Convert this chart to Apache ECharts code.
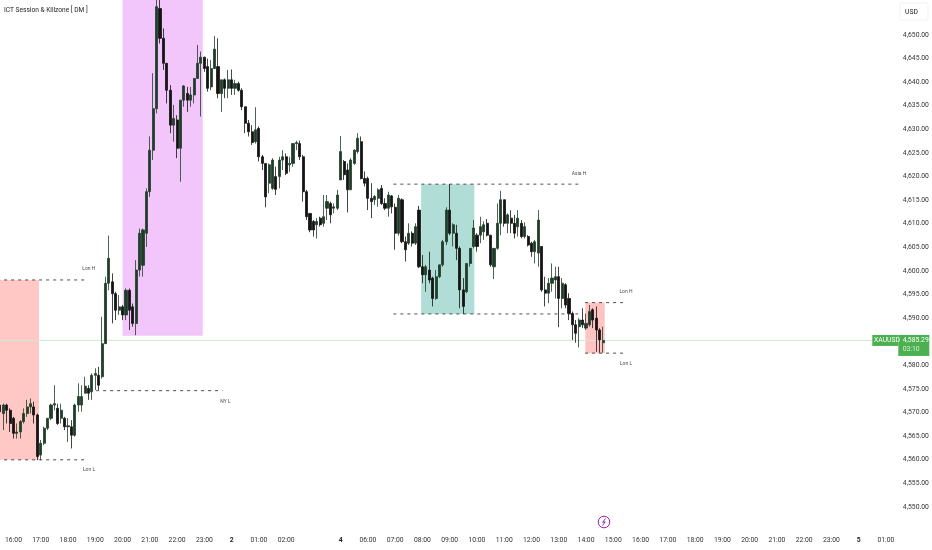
<!DOCTYPE html>
<html><head><meta charset="utf-8">
<style>html,body{margin:0;padding:0;background:#fff}#c{width:932px;height:550px}</style>
<script src="https://cdn.jsdelivr.net/npm/echarts@6/dist/echarts.min.js"></script>
</head><body><div id="c"></div>
<script>
var FONT = 'Roboto,"Noto Sans",sans-serif';
var hourLabels = ['16:00','17:00','18:00','19:00','20:00','21:00','22:00','23:00','2','01:00','02:00','','4','06:00','07:00','08:00','09:00','10:00','11:00','12:00','13:00','14:00','15:00','16:00','17:00','18:00','19:00','20:00','21:00','22:00','23:00','5','01:00'];
var dayLabels = ['2','4','5'];
var lastPrice = 4585.29;
var open = [4571.6,4569.8,4571.6,4570.5,4568.8,4565.6,4565.9,4568.1,4569.8,4571.2,4571.2,4569.5,4561,4563.5,4566.7,4568.8,4571.6,4570.9,4568.8,4568.8,4567,4567,4565.2,4571.6,4571.6,4574.1,4575.1,4574.4,4577.9,4577.9,4577.6,4584.6,4597.4,4597.7,4595.2,4591.7,4592.4,4590.7,4595.9,4592.4,4588.9,4600.2,4601.2,4608,4616.8,4625.6,4634.4,4655.6,4649.3,4644,4638.3,4630.9,4632,4626,4636.2,4637.6,4636.2,4637.3,4640.8,4644,4645.3,4643.3,4639,4642.9,4643.3,4637.6,4640.5,4638.7,4640.5,4638.7,4639.7,4638.3,4634.8,4631.3,4629.5,4627.4,4630.2,4624.2,4622.8,4618.6,4617.5,4620,4620,4623.5,4624.2,4622.5,4622.8,4627,4627,4624.2,4616.8,4612.2,4610.5,4609.8,4611.2,4610.1,4613.3,4614.3,4613.3,4613.3,4619.3,4623.2,4621.4,4617.2,4622.8,4625.3,4627.4,4619.6,4619.6,4615.4,4615.1,4615.4,4617.5,4614.3,4613.3,4615.9,4613.5,4608,4615.1,4606.2,4605.9,4608,4605.9,4612.9,4600.9,4599.2,4600.2,4598.5,4594.2,4598.8,4601.3,4606.2,4612.9,4608,4608,4604.8,4596,4595.6,4601.6,4605.2,4607.6,4607.6,4608.3,4610.1,4607.6,4600.9,4604.8,4610.1,4615.1,4610.1,4611.2,4610.1,4609.4,4610.1,4607.3,4607.3,4605.9,4604.1,4603.8,4605.2,4596,4595.3,4597.4,4598.1,4598.8,4594.2,4597.1,4594.2,4591,4588.6,4588.2,4589.6,4587.9,4588.6,4591.8,4590,4587.5,4584.8];
var close = [4570.2,4571.6,4570.5,4567.7,4565.6,4565.9,4568.1,4569.8,4571.2,4571.9,4569.5,4560.7,4563.5,4566.7,4568.8,4571.6,4571.9,4567.7,4570.5,4567,4567.2,4565.2,4571.6,4573.4,4573.4,4575.6,4574.1,4577.9,4578.3,4575.8,4584.6,4597.4,4602.7,4595.2,4591.7,4592.4,4590.7,4595.9,4591.7,4588.9,4600.2,4608,4608.7,4616.8,4625.6,4634.4,4656,4649.3,4644,4638.3,4630.9,4632.3,4626,4636.2,4639.2,4636.2,4637.3,4640.8,4644,4645.3,4642.9,4638.7,4642.9,4647,4637.6,4640.5,4638.7,4640.5,4638.7,4639.7,4638.3,4634.8,4631.3,4629.5,4627.2,4629.9,4624.2,4622.8,4615.7,4622.5,4623.5,4617.3,4623.5,4624.2,4620.7,4622.8,4627,4627.2,4624.2,4616.8,4611.5,4608.7,4608.7,4610.5,4609.8,4611.5,4614.7,4611.9,4613.6,4616.1,4625.3,4620.4,4617.2,4623.5,4625.6,4628.1,4619.6,4618.6,4615.4,4614.7,4615.8,4617.2,4614.3,4613.3,4616.1,4613.6,4608,4615.4,4606.2,4604.5,4608,4605.9,4609.4,4600.9,4599.2,4600.9,4598.1,4594.2,4598.8,4601.3,4606.2,4612.9,4608,4609.8,4604.8,4596,4592.5,4601.6,4604.8,4609.1,4605.2,4609.4,4609.8,4607.6,4601.3,4604.8,4610.1,4615.1,4610.1,4611.9,4610.1,4608,4611.2,4607.3,4609.4,4605.5,4604.1,4606.2,4610.8,4596,4595.3,4597.4,4598.5,4598.8,4594.2,4597.4,4592.8,4591,4588.6,4586.8,4589.6,4588.6,4588.9,4591.4,4589.6,4587.5,4585.4,4585.29];
var high = [4571.9,4571.9,4571.9,4570.9,4569.1,4567.7,4568.4,4570.9,4572.7,4573,4572.3,4569.8,4564.2,4567,4568.8,4571.9,4575.8,4571.9,4571.9,4569.1,4568.8,4568.4,4571.9,4576.2,4575.8,4577.6,4575.8,4578.3,4579.4,4579.7,4590.3,4598.8,4607.5,4599.5,4595.6,4594.9,4592.8,4596.3,4596.3,4593.1,4602.3,4609,4609,4617.5,4628.5,4641.9,4658,4657.4,4651.4,4644,4639.4,4635.2,4633,4636.2,4639.4,4639,4639,4640.8,4647.9,4646.5,4645.4,4645,4644.7,4649.8,4649.3,4640.5,4640.8,4642.6,4642.7,4640.5,4640.1,4638.7,4634.8,4632,4630.9,4634.7,4630.6,4624.6,4622.8,4622.8,4623.9,4622.1,4624.2,4625.6,4624.9,4624.2,4627,4627.6,4627.6,4624.6,4617.2,4612.2,4610.8,4611.2,4611.5,4616.1,4616.1,4614.7,4614.3,4617.2,4628.6,4623.5,4622.8,4623.9,4625.8,4629.2,4628.5,4621.1,4620,4618.6,4616.1,4617.5,4618.2,4615.4,4616.8,4616.1,4614.3,4616.1,4615.4,4607.3,4610.1,4608.4,4610.1,4613.8,4603.4,4601.3,4604.1,4598.8,4600.2,4601.3,4606.6,4613.5,4618.4,4610.1,4609.8,4605.2,4598.5,4601.6,4604.8,4610.8,4608,4611.5,4610.5,4611,4607.6,4604.8,4614.3,4617,4615.1,4612.2,4612.9,4611.9,4612.9,4610.8,4610.3,4607.6,4606.2,4606.6,4612.9,4605.2,4598.8,4598.5,4601.6,4600.9,4600.9,4598.5,4597.4,4595.3,4591.4,4589.6,4590,4592.1,4591,4592.8,4592.1,4592.5,4587.9,4588.2];
var low = [4568.4,4566.3,4567.7,4565.9,4564.5,4564.5,4564.5,4567.7,4569.1,4569.8,4567.7,4559.9,4559.9,4563.1,4566.3,4568.4,4570.5,4567.4,4567.7,4566.3,4563.8,4562.4,4564.9,4570.2,4570.2,4574.1,4572.7,4572.7,4574.8,4574.8,4577.2,4587.8,4595.9,4588.9,4589.6,4590.7,4589.6,4589.6,4587.5,4588.2,4586.4,4598.8,4598.8,4605.1,4615.7,4623.5,4633.4,4648.2,4642.6,4635.5,4629.2,4627.4,4623.9,4618.9,4634.8,4633.7,4634.8,4635.5,4640.8,4632.7,4642.2,4638,4638.3,4642.9,4636.6,4633.7,4636.6,4636.6,4637.3,4637.3,4638,4634.1,4629.2,4628.5,4626.7,4627,4623.2,4621.4,4613.5,4616.5,4617.2,4616.1,4617.5,4621.4,4620.3,4621,4622.1,4625.6,4623.5,4614.7,4610.8,4608.2,4607.3,4606.9,4609.4,4609.4,4610.8,4610.1,4612.2,4612.9,4619.3,4619.3,4612.4,4617.2,4622.5,4624.9,4619.4,4617.9,4612.9,4611.2,4614,4613.6,4614,4612.9,4611.5,4612.2,4604.5,4607.5,4605.9,4602,4605.5,4605.2,4605.5,4600.6,4597.4,4595.6,4597.4,4592.5,4593.9,4598.5,4600.9,4605.5,4607.6,4605.2,4602.3,4592.1,4590.9,4595.3,4600.9,4604.8,4604.1,4605.9,4606.6,4607.3,4600.9,4598.3,4604.5,4607.6,4609.4,4608,4608,4606.9,4607.3,4606.9,4606.9,4605.2,4603,4601.6,4600.9,4595.6,4592.5,4593.2,4595.6,4594.2,4588.1,4592.1,4592.1,4589.6,4585.4,4584.8,4583.8,4587.9,4587.5,4588.2,4587.9,4582.9,4582.7,4582.7];

// Session overlays, x in hours after the first 16:00 label
var sessionStart = [-0.6, 4.0, 14.95, 20.97];
var sessionEnd   = [0.935, 6.94, 16.9, 21.68];
var sessionLow   = [4560, 4586.3, 4590.9, 4582.6];
var sessionHigh  = [4598.1, 4657.4, 4618.4, 4593.3];
var sessionColor = ['#ffc8c4', '#f2c6fa', '#b0ddd6', '#ffc4c2'];

var levelPrice = [4598.1, 4560, 4574.65, 4618.4, 4590.9, 4593.3, 4582.6];
var levelFrom  = [-0.6, -0.6, 3.03, 13.93, 13.93, 20.96, 20.96];
var levelTo    = [2.66, 2.66, 7.67, 20.71, 20.71, 22.49, 22.49];

var tagText  = ['Lon H', 'Lon L', 'NY L', 'Asia H', 'Lon H', 'Lon L'];
var tagHour  = [2.76, 2.77, 7.77, 20.74, 22.46, 22.46];
var tagPrice = [4600.4, 4557.8, 4572.4, 4620.6, 4595.5, 4580.4];

var SLOTS = 264, PER_HOUR = 8, FIRST = 4;
var categories = [];
for (var i = 0; i < SLOTS; i++) categories.push('s' + i);
var ohlc = open.map(function (o, i) { return [o, close[i], low[i], high[i]]; });

function labelOf(i) {
  var k = (i - FIRST) / PER_HOUR;
  return (k >= 0 && k === Math.floor(k) && hourLabels[k]) ? hourLabels[k] : null;
}
var series = [];
series.push({
  type: 'line', name: 'sessions', xAxisIndex: 1, data: [], silent: true, z: 1,
  markArea: {
    silent: true, z: 1,
    data: sessionStart.map(function (s, i) {
      return [{ coord: [s, sessionLow[i]], itemStyle: { color: sessionColor[i], opacity: 1 } },
              { coord: [sessionEnd[i], sessionHigh[i]] }];
    })
  }
});
series.push({
  type: 'line', name: 'last', xAxisIndex: 1, symbol: 'none', silent: true, z: 2,
  data: [[-0.6, lastPrice], [31.5, lastPrice]],
  lineStyle: { color: '#d3e8d4', width: 1 }
});
levelPrice.forEach(function (p, i) {
  series.push({
    type: 'line', xAxisIndex: 1, symbol: 'none', silent: true, z: 2,
    data: [[levelFrom[i], p], [levelTo[i], p]],
    lineStyle: { color: '#222', width: 0.8, type: [3, 4] }
  });
});
series.push({
  type: 'candlestick', name: 'XAUUSD', data: ohlc, barWidth: 2.6, z: 3,
  itemStyle: { color: '#1f3d28', color0: '#141414', borderColor: '#1f3d28', borderColor0: '#141414', borderWidth: 0.8 }
});
series.push({
  type: 'scatter', xAxisIndex: 1, symbolSize: 0, silent: true, z: 4,
  data: tagHour.map(function (h, i) { return { value: [h, tagPrice[i]], name: tagText[i] }; }),
  label: { show: true, position: 'inside', formatter: '{b}', fontSize: 5, color: '#222', fontFamily: FONT }
});

var chart = echarts.init(document.getElementById('c'), null, { renderer: 'canvas' });
chart.setOption({
  animation: false, backgroundColor: '#fff',
  title: { text: 'ICT Session & Killzone [ DM ]', left: 4, top: 7, padding: 0, textStyle: { fontSize: 6.6, fontWeight: 'normal', color: '#222', fontFamily: FONT } },
  grid: { left: -1.836, top: 0, width: 899.7, height: 530.6, containLabel: false, outerBoundsMode: 'none' },
  xAxis: [{
    type: 'category', data: categories, boundaryGap: true,
    axisLine: { show: false }, axisTick: { show: false }, splitLine: { show: false },
    axisLabel: {
      interval: function (i) { return !!labelOf(i); },
      margin: 6, fontSize: 6.8, color: '#333', fontFamily: FONT,
      formatter: function (v, i) {
        var t = labelOf(i);
        return !t ? '' : dayLabels.indexOf(t) >= 0 ? '{d|' + t + '}' : t;
      },
      rich: { d: { fontSize: 6.8, fontWeight: 'bold', color: '#222', fontFamily: FONT } }
    }
  }, {
    type: 'value', show: false, min: -0.5624, max: 32.43, splitLine: { show: false }
  }],
  yAxis: {
    type: 'value', position: 'right', min: 4545, max: 4657.415, interval: 5,
    axisLine: { show: false }, axisTick: { show: false }, splitLine: { show: false },
    axisLabel: {
      margin: 5, fontSize: 6.8, color: '#333', fontFamily: FONT, showMaxLabel: false,
      formatter: function (v) {
        return (v > 4650 || v < 4550 || v === 4585) ? '' : v.toLocaleString('en-US', { minimumFractionDigits: 2, maximumFractionDigits: 2 });
      }
    }
  },
  series: series
});
var py = chart.convertToPixel({ yAxisIndex: 0 }, lastPrice);
chart.setOption({
  graphic: [
    { type: 'rect', z: 100, shape: { x: 900, y: 3, width: 28, height: 17, r: 2 }, style: { fill: '#fff', stroke: '#f2f2f2', lineWidth: 1 } },
    { type: 'text', z: 101, style: { x: 905, y: 8.5, text: 'USD', fontSize: 6.8, fill: '#222', fontFamily: FONT } },
    { type: 'rect', z: 100, shape: { x: 872.3, y: py - 5.5, width: 26, height: 11 }, style: { fill: '#4caf50' } },
    { type: 'text', z: 101, style: { x: 874, y: py - 3.5, text: 'XAUUSD', fontSize: 6.8, fill: '#fff', fontFamily: FONT } },
    { type: 'rect', z: 100, shape: { x: 898.3, y: py - 5.5, width: 31, height: 21 }, style: { fill: '#4caf50' } },
    { type: 'text', z: 101, style: { x: 902.7, y: py - 3.5, text: '4,585.29', fontSize: 6.8, fill: '#fff', fontFamily: FONT } },
    { type: 'text', z: 101, style: { x: 902.7, y: py + 5, text: '03:10', fontSize: 6.8, fill: '#d6efd8', fontFamily: FONT } },
    { type: 'circle', z: 100, shape: { cx: 604, cy: 522, r: 5.8 }, style: { fill: '#fff', stroke: '#9c27b0', lineWidth: 1 } },
    { type: 'polyline', z: 101, shape: { points: [[605.5, 518.5], [602.6, 522.4], [605.2, 521.8], [602.6, 525.5]] }, style: { fill: 'none', stroke: '#7b1fa2', lineWidth: 0.9 } }
  ]
});
</script></body></html>
